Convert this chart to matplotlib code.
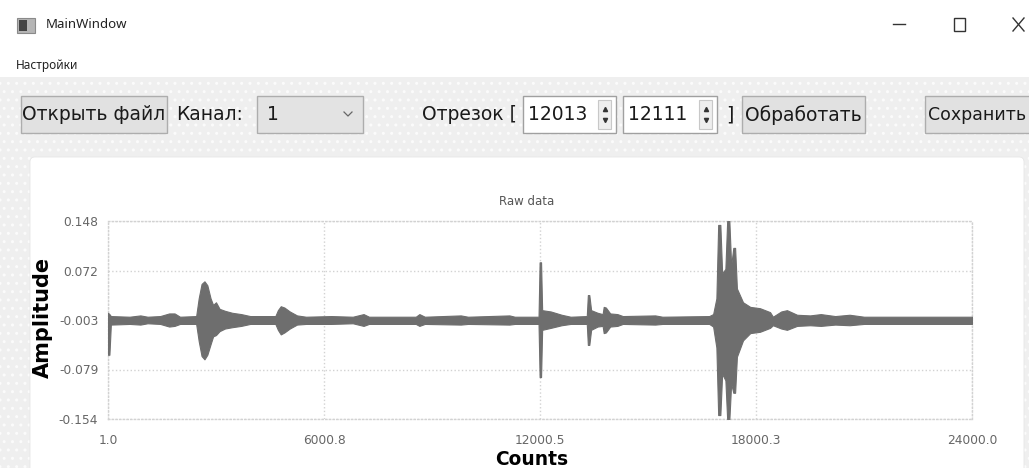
import matplotlib
matplotlib.use('Agg')
import matplotlib.pyplot as plt
from matplotlib.patches import Rectangle, FancyBboxPatch
from matplotlib import font_manager

# Данные (огибающая сигнала)
env_counts = [1, 40, 80, 600, 900, 1100, 1450, 1700, 1850, 2000, 2450, 2520, 2600, 2680,
              2760, 2850, 2920, 3000, 3100, 3250, 3450, 3700, 3950, 4650, 4720, 4800,
              4900, 5050, 5250, 5500, 6200, 6800, 7100, 7250, 8550, 8650, 8800, 9800,
              10000, 11150, 11300, 11960, 11990, 12030, 12060, 12300, 12600, 12850,
              13300, 13330, 13370, 13420, 13600, 13740, 13770, 13830, 13950, 14150,
              14300, 15200, 15400, 16700, 16810, 16900, 16950, 17010, 17060, 17150,
              17200, 17260, 17310, 17370, 17420, 17470, 17640, 17840, 18110, 18390,
              18470, 18700, 18860, 19140, 19500, 19800, 20200, 20600, 21000, 24000]
env_upper = [0.008, 0.006, 0.003, 0.002, 0.004, 0.002, 0.003, 0.007, 0.007, 0.002, 0.003,
             0.030, 0.052, 0.056, 0.050, 0.030, 0.020, 0.024, 0.014, 0.011, 0.008, 0.006,
             0.003, 0.003, 0.012, 0.018, 0.016, 0.010, 0.004, 0.002, 0.003, 0.002, 0.006,
             0.002, 0.002, 0.006, 0.002, 0.004, 0.002, 0.004, 0.002, 0.002, 0.085, 0.085,
             0.012, 0.010, 0.005, 0.002, 0.003, 0.035, 0.035, 0.012, 0.008, 0.006, 0.017,
             0.016, 0.007, 0.006, 0.003, 0.004, 0.002, 0.003, 0.006, 0.030, 0.142, 0.142,
             0.068, 0.075, 0.148, 0.148, 0.080, 0.107, 0.107, 0.045, 0.024, 0.017, 0.015,
             0.009, 0.002, 0.010, 0.012, 0.005, 0.004, 0.006, 0.003, 0.005, 0.002, 0.002]
env_lower = [-0.056, -0.056, -0.010, -0.009, -0.010, -0.008, -0.009, -0.013, -0.012, -0.009,
             -0.009, -0.035, -0.058, -0.063, -0.056, -0.040, -0.028, -0.026, -0.020, -0.016,
             -0.014, -0.012, -0.009, -0.009, -0.018, -0.025, -0.022, -0.016, -0.010, -0.009,
             -0.009, -0.008, -0.012, -0.009, -0.009, -0.012, -0.009, -0.010, -0.009, -0.010,
             -0.009, -0.009, -0.090, -0.090, -0.018, -0.015, -0.011, -0.009, -0.009, -0.041,
             -0.041, -0.018, -0.013, -0.012, -0.023, -0.022, -0.013, -0.012, -0.009, -0.010,
             -0.009, -0.009, -0.013, -0.045, -0.148, -0.148, -0.085, -0.095, -0.155, -0.155,
             -0.100, -0.114, -0.114, -0.059, -0.034, -0.023, -0.021, -0.015, -0.011, -0.016,
             -0.018, -0.012, -0.011, -0.012, -0.010, -0.011, -0.009, -0.009]

x_ticks = [1.0, 6000.75, 12000.5, 18000.25, 24000.0]
x_tick_labels = ['1.0', '6000.8', '12000.5', '18000.3', '24000.0']
y_ticks = [-0.154, -0.0785, -0.003, 0.0725, 0.148]
y_tick_labels = ['-0.154', '-0.079', '-0.003', '0.072', '0.148']

# шрифты
names = {f.name for f in font_manager.fontManager.ttflist}
NARROW = 'Liberation Sans Narrow' in names
UI = ['Liberation Sans Narrow', 'DejaVu Sans'] if NARROW else ['DejaVu Sans']
ui_size = 17 if NARROW else 13.5

W, H = 1029, 468
fig = plt.figure(figsize=(W / 100, H / 100), dpi=100)

# окно (фон)
bg = fig.add_axes([0, 0, 1, 1])
bg.set_xlim(0, W)
bg.set_ylim(H, 0)
bg.axis('off')

# заголовок окна
bg.add_patch(Rectangle((17, 18), 18, 15, facecolor='#b5b5b5', edgecolor='#8a8a8a', lw=0.8))
bg.add_patch(Rectangle((19, 20), 8, 11, facecolor='#444444', edgecolor='none'))
bg.text(46, 25, 'MainWindow', fontsize=9.5, family=['Noto Sans', 'DejaVu Sans'],
        va='center', ha='left', color='#222222')
bg.plot([893, 905], [24, 24], color='#333333', lw=1.0)
bg.add_patch(Rectangle((954, 18), 11, 13, facecolor='none', edgecolor='#333333', lw=1.0))
bg.plot([1013, 1024], [18, 31], color='#333333', lw=1.0)
bg.plot([1013, 1024], [31, 18], color='#333333', lw=1.0)

# меню
bg.text(16, 65, 'Настройки', fontsize=8.5, family=['Noto Sans', 'DejaVu Sans'],
        va='center', ha='left', color='#222222')

# панель инструментов
bg.add_patch(Rectangle((0, 77), W, H - 77, facecolor='#efefef', edgecolor='#fbfbfb',
                       hatch='..', lw=0))


def button(x0, x1, label, face='#e1e1e1'):
    bg.add_patch(Rectangle((x0, 96), x1 - x0, 37, facecolor=face, edgecolor='#adadad', lw=1))
    if label:
        bg.text((x0 + x1) / 2, 115, label, fontsize=ui_size, family=UI,
                ha='center', va='center', color='#1a1a1a')


def spinbox(x0, x1, value):
    bg.add_patch(Rectangle((x0, 96), x1 - x0, 37, facecolor='white', edgecolor='#a0a0a0', lw=1))
    bg.text(x0 + 5, 115, value, fontsize=ui_size, family=UI, ha='left', va='center',
            color='#1a1a1a')
    bg.add_patch(Rectangle((x1 - 18, 100), 13, 29, facecolor='#eeeeee', edgecolor='#c8c8c8', lw=0.8))
    bg.plot([x1 - 11.5], [109], marker='^', ms=3, color='#333333')
    bg.plot([x1 - 11.5], [120], marker='v', ms=3, color='#333333')


button(21, 167, 'Открыть файл')
bg.text(176, 115, 'Канал:', fontsize=ui_size, family=UI, ha='left', va='center', color='#1a1a1a')
button(257, 363, None, face='#e3e3e3')
bg.text(267, 115, '1', fontsize=ui_size, family=UI, ha='left', va='center', color='#1a1a1a')
bg.plot([344, 348, 352], [112, 116, 112], color='#666666', lw=0.9)
bg.text(422, 115, 'Отрезок [', fontsize=ui_size, family=UI, ha='left', va='center',
        color='#1a1a1a')
spinbox(523, 616, '12013')
spinbox(623, 717, '12111')
bg.text(726, 115, ']', fontsize=ui_size, family=UI, ha='left', va='center', color='#1a1a1a')
button(742, 865, 'Обработать')
bg.add_patch(Rectangle((925, 96), 120, 37, facecolor='#e1e1e1', edgecolor='#adadad', lw=1))
bg.text(928, 115, 'Сохранить', fontsize=ui_size - 1.0, family=UI, ha='left', va='center',
        color='#1a1a1a')

# белая панель графика
bg.add_patch(FancyBboxPatch((30, 157), 994, 330, boxstyle='round,pad=0,rounding_size=5',
                            facecolor='white', edgecolor='#e6e6e6', lw=0.6))

# график
ax = fig.add_axes([108 / W, (H - 419) / H, 864 / W, 198 / H])
ax.set_facecolor('none')
ax.set_axisbelow(True)
ax.fill_between(env_counts, env_upper, env_lower, color='#6e6e6e', lw=0.8, edgecolor='#6e6e6e',
                zorder=3)
ax.set_xlim(x_ticks[0], x_ticks[-1])
ax.set_ylim(y_ticks[0], y_ticks[-1])
ax.set_xticks(x_ticks)
ax.set_xticklabels(x_tick_labels)
ax.set_yticks(y_ticks)
ax.set_yticklabels(y_tick_labels)
ax.tick_params(length=0, labelsize=8.8, labelcolor='#666666')
ax.tick_params(axis='y', pad=7)
ax.tick_params(axis='x', pad=11)
ax.grid(True, ls=':', color='#d2d2d2', lw=1.0, zorder=0)
for s in ax.spines.values():
    s.set_linestyle(':')
    s.set_color('#d2d2d2')
    s.set_linewidth(1.0)

ax.text(0.485, 1.1, 'Raw data', transform=ax.transAxes, ha='center', va='center',
        fontsize=8.5, color='#555555')
ax.set_xlabel('Counts', fontsize=13.4, fontweight='bold', color='black')
ax.xaxis.set_label_coords(0.49, -0.207)
ax.xaxis.label.set_va('center')
ax.set_ylabel('Amplitude', fontsize=15, fontweight='bold', color='black')
ax.yaxis.set_label_coords(-0.075, 0.515)
ax.yaxis.label.set_va('center')

fig.savefig('out.png', dpi=100)
